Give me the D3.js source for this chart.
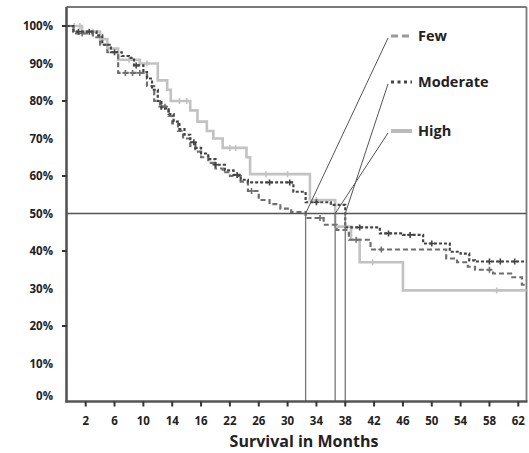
<!DOCTYPE html>
<html>
<head>
<meta charset="utf-8">
<script src="https://cdn.jsdelivr.net/npm/d3@7"></script>
<style>
  html, body { margin: 0; padding: 0; background: #fff; }
  svg { display: block; }
  text { font-family: "Open Sans", "Lato", sans-serif; font-weight: 700; fill: #222; }
</style>
</head>
<body>
<svg id="chart" width="529" height="453"></svg>
<script>
// Kaplan-Meier step curves: [month, survival %] = value from that month on
const fewSteps = [[0,100],[0.3,98],[3,97],[4,95],[5,93],[6.5,87.5],[10.5,84],[11.5,80],[12.3,78.5],
  [13.5,76],[14,74],[14.8,72],[15.5,70],[16.5,68],[17.2,66.5],[18,65],[19,63.5],[20,62],[21,61],
  [22,60],[23.5,58.5],[24.5,56],[26,53.6],[27.5,52.5],[29,51.3],[30.5,50.4],[32.5,48.8],[35,47],
  [36.8,45.6],[38.5,43],[41.5,40.4],[52,38],[53.5,37],[55,35.8],[56,35],[58.5,34],[61,33],[62.5,31]];
const moderateSteps = [[0,100],[0.3,98.5],[3.5,97.5],[4.3,95],[5.5,93],[7,92],[8,91.5],[8.7,89.5],
  [10,87.7],[10.5,86],[11.2,83],[12,80],[12.5,78],[13.5,76.5],[14.2,74.5],[15,72.5],[15.7,71],
  [16.5,69],[17.2,67.5],[18,66],[19,64.5],[20,63],[21.3,61.5],[22.5,60.3],[23.5,59],[24.5,58.3],
  [30.8,55.8],[32.5,53],[36,52.3],[38,46.3],[42.8,44.7],[46,44.3],[48.8,42],[52.5,39.8],[54,39.3],
  [55.2,37.5],[56,37.2]];
const highSteps = [[0,100],[1.5,98.5],[4,96.5],[5,94],[6.5,91],[9.5,90],[12,85.5],[13.3,83],[13.8,80],
  [16.5,77.5],[17.5,74.5],[18.8,72],[19.7,70],[21,67.5],[24.3,65],[24.8,60.5],[33.1,53.6],[36.6,46.5],
  [38.8,43],[40,37],[46,29.5]];

// censored observations (months)
const fewCensored = [1.5, 7.5, 8.5, 9.5, 12.5, 13, 25, 34.5, 39.5, 43, 58];
const moderateCensored = [1, 2.5, 6, 9, 17, 20, 23, 27.5, 30.3, 34, 40, 44, 47, 50, 58, 59.5, 61.5];
const highCensored = [0.4, 1.2, 3, 8, 10.5, 15, 16, 22, 22.8, 27, 30, 34, 41.8, 59];

// median survival (months)
const medians = { Few: 32.5, Moderate: 38.0, High: 36.6 };

const seriesNames = ["Few", "Moderate", "High"];

// axis ticks
const xTickValues = [2, 6, 10, 14, 18, 22, 26, 30, 34, 38, 42, 46, 50, 54, 58, 62];
const xTickLabels = ["2", "6", "10", "14", "16", "22", "26", "30", "34", "38", "42", "46", "50", "54", "58", "62"];
const yTickValues = [0, 10, 20, 30, 40, 50, 60, 70, 80, 90, 100];
const yTickMarks = [20, 40, 60, 80, 100];

const svg = d3.select("#chart");

const frame = { left: 66.5, right: 526.5, top: 7, bottom: 401.5 };
const x = d3.scaleLinear().domain([2, 62]).range([85.7, 518.3]);
const y = d3.scaleLinear().domain([0, 100]).range([401, 26]);
const xStart = x.invert(frame.left), xEnd = x.invert(frame.right);

const styles = {
  Few:      { color: "#6f6f6f", width: 2.2, dash: "5,3" },
  Moderate: { color: "#444444", width: 2.2, dash: "3,2" },
  High:     { color: "#c2c2c2", width: 2.6, dash: null }
};
const steps = { Few: fewSteps, Moderate: moderateSteps, High: highSteps };
const censored = { Few: fewCensored, Moderate: moderateCensored, High: highCensored };

function valueAt(s, m) {
  let v = s[0][1];
  for (const [t, val] of s) { if (t <= m) v = val; else break; }
  return v;
}

// frame: thin top/right, heavier left/bottom axes
svg.append("line").attr("x1", frame.left).attr("x2", frame.right).attr("y1", frame.top).attr("y2", frame.top)
  .attr("stroke", "#7a7a7a").attr("stroke-width", 1.8);
svg.append("line").attr("x1", frame.right).attr("x2", frame.right).attr("y1", frame.top).attr("y2", frame.bottom)
  .attr("stroke", "#7a7a7a").attr("stroke-width", 1.8);

// survival curves
const line = d3.line().curve(d3.curveStepAfter).x(d => x(d[0])).y(d => y(d[1]));
["High", "Few", "Moderate"].forEach(name => {
  const s = steps[name];
  const pts = [[xStart, s[0][1]], ...s.slice(1), [xEnd, s[s.length - 1][1]]];
  const st = styles[name];
  svg.append("path").datum(pts).attr("d", line).attr("fill", "none")
    .attr("stroke", st.color).attr("stroke-width", st.width)
    .attr("stroke-dasharray", st.dash);
  // censor ticks
  svg.append("g").selectAll("path").data(censored[name]).join("path")
    .attr("d", m => {
      const cx = x(m), cy = y(valueAt(s, m));
      return `M${cx - 3},${cy}H${cx + 3}M${cx},${cy - 3}V${cy + 3}`;
    })
    .attr("stroke", st.color).attr("stroke-width", 1.6);
});

// 50% reference line
svg.append("line").attr("x1", frame.left).attr("x2", frame.right).attr("y1", y(50)).attr("y2", y(50))
  .attr("stroke", "#555").attr("stroke-width", 1.4);

// median drop lines
seriesNames.forEach(name => {
  svg.append("line").attr("x1", x(medians[name])).attr("x2", x(medians[name]))
    .attr("y1", y(50)).attr("y2", frame.bottom)
    .attr("stroke", "#777").attr("stroke-width", 1.3);
});

// legend with leader lines to the medians
const legendY = { Few: 36, Moderate: 82, High: 131 };
seriesNames.forEach(name => {
  const ly = legendY[name];
  svg.append("line").attr("x1", 388).attr("y1", ly + 2).attr("x2", x(medians[name])).attr("y2", y(50))
    .attr("stroke", "#555").attr("stroke-width", 1);
  const sample = svg.append("line").attr("x1", 391).attr("x2", 412).attr("y1", ly).attr("y2", ly)
    .attr("stroke", name === "Few" ? "#999" : name === "Moderate" ? "#444" : "#bbb")
    .attr("stroke-width", name === "High" ? 4 : 3.2);
  if (name === "Few") sample.attr("stroke-dasharray", "7,4");
  if (name === "Moderate") sample.attr("stroke-dasharray", "3,3.5");
  svg.append("text").attr("x", 418).attr("y", ly).attr("dy", "0.35em")
    .style("font-size", "14.5px").text(name);
});

// left axis
svg.append("line").attr("x1", frame.left).attr("x2", frame.left).attr("y1", frame.top).attr("y2", frame.bottom + 1)
  .attr("stroke", "#555").attr("stroke-width", 2.6);
svg.append("g").selectAll("line").data(yTickMarks).join("line")
  .attr("x1", frame.left - 4.5).attr("x2", frame.left).attr("y1", d => y(d)).attr("y2", d => y(d))
  .attr("stroke", "#333").attr("stroke-width", 2);
svg.append("g").selectAll("text").data(yTickValues).join("text")
  .attr("x", 53).attr("y", d => y(d) - (d === 0 ? 5 : 0)).attr("dy", "0.35em").attr("text-anchor", "end")
  .style("font-size", "11.5px").text(d => d + "%");

// bottom axis
svg.append("line").attr("x1", frame.left - 1).attr("x2", frame.right + 1).attr("y1", frame.bottom).attr("y2", frame.bottom)
  .attr("stroke", "#555").attr("stroke-width", 2.6);
svg.append("g").selectAll("line").data(xTickValues).join("line")
  .attr("x1", d => x(d)).attr("x2", d => x(d)).attr("y1", frame.bottom).attr("y2", frame.bottom + 5)
  .attr("stroke", "#333").attr("stroke-width", 2);
svg.append("g").selectAll("text").data(xTickValues).join("text")
  .attr("x", d => x(d)).attr("y", 425).attr("text-anchor", "middle")
  .style("font-size", "11.5px").text((d, i) => xTickLabels[i]);

svg.append("text").attr("x", 304).attr("y", 447).attr("text-anchor", "middle")
  .style("font-size", "16px").text("Survival in Months");
</script>
</body>
</html>
